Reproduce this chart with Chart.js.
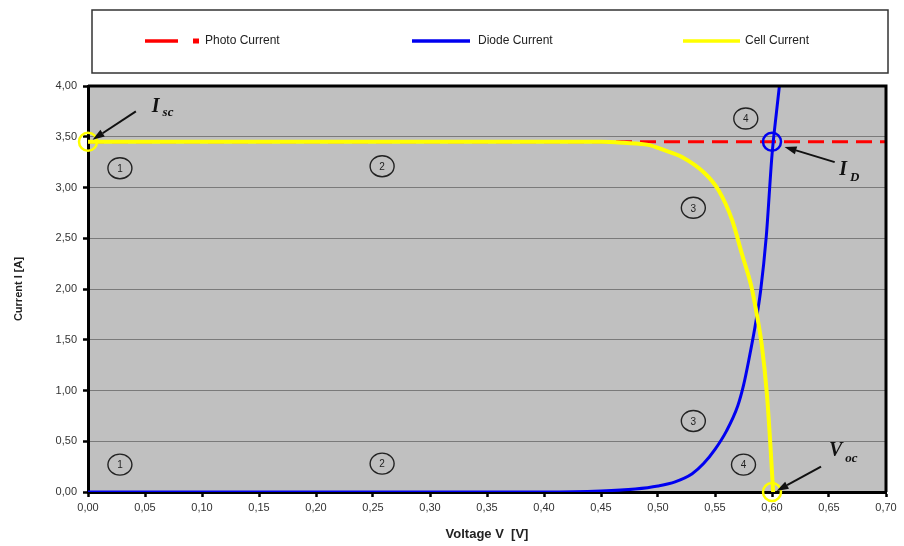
<!DOCTYPE html>
<html><head><meta charset="utf-8">
<script src="https://cdn.jsdelivr.net/npm/chart.js"></script>
<style>html,body{margin:0;padding:0;background:#fff}#wrap{width:904px;height:546px}</style>
</head><body><div id="wrap"><canvas id="c" width="904" height="546"></canvas></div>
<script>
const photoV = [0, 0.70];
const photoI = [3.45, 3.45];
const diodeV = [0, 0.10, 0.20, 0.30, 0.40, 0.45, 0.48, 0.50, 0.515, 0.53, 0.54, 0.55, 0.56, 0.57, 0.575, 0.58, 0.585, 0.59, 0.595, 0.60, 0.604, 0.607];
const diodeI = [0, 0, 0, 0, 0, 0.01, 0.03, 0.06, 0.10, 0.18, 0.28, 0.42, 0.60, 0.85, 1.05, 1.32, 1.62, 1.98, 2.52, 3.32, 3.75, 4.05];
const cellV = [0, 0.10, 0.20, 0.30, 0.40, 0.45, 0.47, 0.4915, 0.505, 0.521, 0.541, 0.553, 0.565, 0.5735, 0.582, 0.587, 0.591, 0.5955, 0.5985, 0.601];
const cellI = [3.45, 3.45, 3.45, 3.45, 3.45, 3.45, 3.44, 3.42, 3.37, 3.30, 3.14, 2.975, 2.68, 2.35, 2.02, 1.73, 1.45, 0.97, 0.48, 0.00];
const seriesNames = ['Photo Current', 'Diode Current', 'Cell Current'];
const seriesColors = ['#ff0000', '#0000f0', '#ffff00'];
const regionMarks = [
  ['1', 0.028, 3.19], ['1', 0.028, 0.27],
  ['2', 0.258, 3.21], ['2', 0.258, 0.28],
  ['3', 0.531, 2.80], ['3', 0.531, 0.70],
  ['4', 0.577, 3.68], ['4', 0.575, 0.27]
];
const pointMarks = [
  [0.0, 3.45, '#ffff00'], [0.60, 3.45, '#0000f0'], [0.60, 0.0, '#ffff00']
];

const pts = (xs, ys) => xs.map((x, i) => ({x: x, y: ys[i]}));
const comma = v => Number(v).toFixed(2).replace('.', ',');

const deco = {
  id: 'deco',
  beforeDraw(chart) {
    const {ctx, chartArea: a} = chart;
    ctx.save();
    ctx.fillStyle = '#c0c0c0';
    ctx.fillRect(a.left, a.top, a.right - a.left, a.bottom - a.top);
    ctx.restore();
  },
  afterDraw(chart) {
    const {ctx, chartArea: a} = chart;
    const xs = chart.scales.x, ys = chart.scales.y;
    const px = v => xs.getPixelForValue(v), py = v => ys.getPixelForValue(v);
    ctx.save();
    ctx.strokeStyle = '#000'; ctx.lineWidth = 3;
    ctx.beginPath();
    ctx.moveTo(a.left, a.top); ctx.lineTo(a.right, a.top); ctx.lineTo(a.right, a.bottom);
    ctx.stroke();
    pointMarks.forEach(([x, y, c]) => {
      ctx.strokeStyle = c; ctx.lineWidth = 2.5;
      ctx.beginPath(); ctx.arc(px(x), py(y), 9, 0, Math.PI * 2); ctx.stroke();
    });
    ctx.font = '10px "Liberation Sans", Arial, sans-serif';
    ctx.textAlign = 'center'; ctx.textBaseline = 'middle';
    regionMarks.forEach(([t, x, y]) => {
      const cx = px(x), cy = py(y);
      ctx.strokeStyle = '#222'; ctx.lineWidth = 1.4;
      ctx.beginPath(); ctx.ellipse(cx, cy, 12, 10.5, 0, 0, Math.PI * 2); ctx.stroke();
      ctx.fillStyle = '#222'; ctx.fillText(t, cx, cy + 1);
    });
    const arrow = (x1, y1, x2, y2) => {
      ctx.strokeStyle = '#111'; ctx.fillStyle = '#111'; ctx.lineWidth = 2;
      const ang = Math.atan2(y2 - y1, x2 - x1);
      const hx = x2 - 12 * Math.cos(ang), hy = y2 - 12 * Math.sin(ang);
      ctx.beginPath(); ctx.moveTo(x1, y1); ctx.lineTo(hx, hy); ctx.stroke();
      ctx.beginPath();
      ctx.moveTo(x2, y2);
      ctx.lineTo(hx + 4 * Math.sin(ang), hy - 4 * Math.cos(ang));
      ctx.lineTo(hx - 4 * Math.sin(ang), hy + 4 * Math.cos(ang));
      ctx.closePath(); ctx.fill();
    };
    arrow(px(0.042), py(3.75), px(0.004), py(3.47));
    arrow(px(0.655), py(3.25), px(0.611), py(3.40));
    arrow(px(0.643), py(0.25), px(0.604), py(0.01));
    const lab = (x, y, main, sub, dy) => {
      ctx.fillStyle = '#111'; ctx.textAlign = 'left'; ctx.textBaseline = 'alphabetic';
      ctx.font = 'italic bold 20px "Liberation Serif", "DejaVu Serif", serif';
      ctx.fillText(main, x, y);
      const w = ctx.measureText(main).width;
      ctx.font = 'italic bold 13px "Liberation Serif", "DejaVu Serif", serif';
      ctx.fillText(sub, x + w + 3, y + dy);
    };
    lab(px(0.056), py(3.74), 'I', 'sc', 4);
    lab(px(0.659), py(3.12), 'I', 'D', 6);
    lab(px(0.650), py(0.35), 'V', 'oc', 6);
    ctx.strokeStyle = '#333'; ctx.lineWidth = 1.5;
    ctx.strokeRect(92, 10, 796, 63);
    ctx.font = '12px "Liberation Sans", Arial, sans-serif';
    ctx.textBaseline = 'middle'; ctx.textAlign = 'left'; ctx.fillStyle = '#222';
    const ly = 41;
    ctx.lineWidth = 3.5;
    ctx.strokeStyle = seriesColors[0];
    ctx.beginPath(); ctx.moveTo(145, ly); ctx.lineTo(178, ly); ctx.stroke();
    ctx.fillStyle = seriesColors[0]; ctx.fillRect(193, ly - 2.5, 6, 5);
    ctx.fillStyle = '#222'; ctx.fillText(seriesNames[0], 205, ly);
    ctx.strokeStyle = seriesColors[1];
    ctx.beginPath(); ctx.moveTo(412, ly); ctx.lineTo(470, ly); ctx.stroke();
    ctx.fillText(seriesNames[1], 478, ly);
    ctx.strokeStyle = seriesColors[2];
    ctx.beginPath(); ctx.moveTo(683, ly); ctx.lineTo(740, ly); ctx.stroke();
    ctx.fillText(seriesNames[2], 745, ly);
    ctx.restore();
  }
};

new Chart(document.getElementById('c'), {
  type: 'scatter',
  data: {
    datasets: [
      {label: seriesNames[2], data: pts(cellV, cellI), showLine: true, borderColor: seriesColors[2], borderWidth: 4, pointRadius: 0, cubicInterpolationMode: 'monotone'},
      {label: seriesNames[1], data: pts(diodeV, diodeI), showLine: true, borderColor: seriesColors[1], borderWidth: 3, pointRadius: 0, cubicInterpolationMode: 'monotone'},
      {label: seriesNames[0], data: pts(photoV, photoI), showLine: true, borderColor: seriesColors[0], borderWidth: 3, borderDash: [16, 8], pointRadius: 0}
    ]
  },
  options: {
    responsive: false, animation: false, devicePixelRatio: 1,
    layout: {padding: {top: 86, right: 18, left: 8, bottom: 0}},
    plugins: {legend: {display: false}, tooltip: {enabled: false}},
    scales: {
      x: {
        type: 'linear', min: 0, max: 0.70,
        afterFit: s => { s.height = 54; },
        ticks: {stepSize: 0.05, callback: v => comma(v), color: '#333', font: {size: 11, family: '"Liberation Sans", Arial, sans-serif'}, padding: 4, maxRotation: 0, autoSkip: false},
        grid: {drawOnChartArea: false, tickColor: '#000', tickWidth: 2.5, tickLength: 5},
        border: {color: '#000', width: 3},
        title: {display: true, text: 'Voltage V  [V]', color: '#222', font: {size: 13, weight: 'bold', family: '"Liberation Sans", Arial, sans-serif'}, padding: {top: 3}}
      },
      y: {
        min: 0, max: 4,
        afterFit: s => { s.width = 80; },
        ticks: {stepSize: 0.5, callback: v => comma(v), color: '#333', font: {size: 11, family: '"Liberation Sans", Arial, sans-serif'}, padding: 6},
        grid: {color: '#7a7a7a', lineWidth: 1, tickColor: '#000', tickWidth: 2.5, tickLength: 5},
        border: {color: '#000', width: 3},
        title: {display: true, text: 'Current I [A]', color: '#222', font: {size: 11, weight: 'bold', family: '"Liberation Sans", Arial, sans-serif'}, padding: {bottom: 4}}
      }
    }
  },
  plugins: [deco]
});
</script></body></html>
